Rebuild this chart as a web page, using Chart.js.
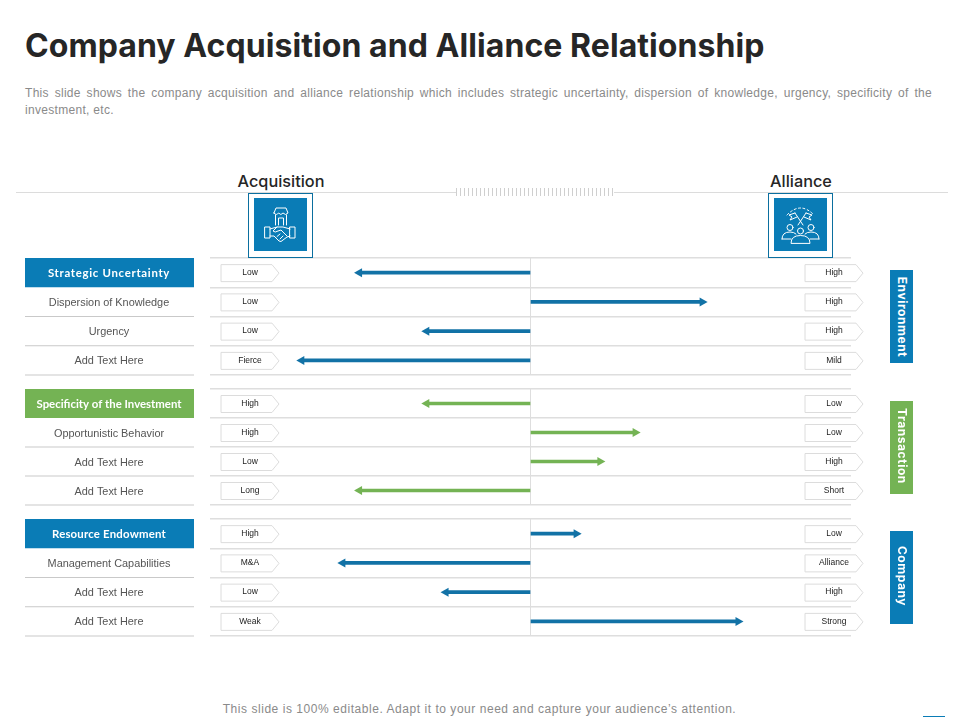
<!DOCTYPE html>
<html>
<head>
<meta charset="utf-8">
<title>Company Acquisition and Alliance Relationship</title>
<script src="https://cdn.jsdelivr.net/npm/chart.js@4"></script>
<style>
  html,body{margin:0;padding:0;background:#fff;}
  body{position:relative;width:960px;height:720px;overflow:hidden;font-family:"Liberation Sans",Arial,sans-serif;}
  h1{position:absolute;left:25px;top:26px;margin:0;font:700 32px/40px "Inter",sans-serif;color:#262626;letter-spacing:.07px;white-space:nowrap;}
  .intro{position:absolute;left:25px;top:85px;width:907px;font-size:12px;line-height:17px;color:#8a8a8a;letter-spacing:.3px;}
  .intro div:first-child{text-align:justify;text-align-last:justify;}
  .head{position:absolute;top:171px;width:120px;text-align:center;font:500 16.3px/20px "Inter",sans-serif;color:#262626;}
  .rule{position:absolute;left:16px;top:192px;width:932px;height:1px;background:#dcdcdc;}
  .hatch{position:absolute;left:456px;top:188px;width:158px;height:8px;background:repeating-linear-gradient(90deg,#cfcfcf 0 1px,#fff 1px 4px);}
  .iconbox{position:absolute;top:193px;width:63px;height:63px;border:1px solid #0b6f9f;background:#fff;z-index:2;}
  .iconbox div{position:absolute;left:5px;top:4px;width:53px;height:53px;background:#0a7cb6;}
  svg{display:block;fill:none;stroke:#fff;stroke-width:1;stroke-linejoin:round;stroke-linecap:round;}
  canvas{position:absolute;left:0;}
  .side{position:absolute;left:890px;width:23px;height:93px;}
  .side span{position:absolute;left:50%;top:50%;transform:translate(-50%,-50%) rotate(90deg);font:700 12px/14px "Inter",sans-serif;color:#fff;letter-spacing:.55px;white-space:nowrap;}
  .foot{position:absolute;left:0;width:960px;top:701px;text-align:center;font-size:12px;line-height:16px;color:#8a8a8a;letter-spacing:.54px;text-indent:-1px;}
  .mark{position:absolute;left:923px;top:716px;width:22px;height:1px;background:#0a7cb6;}
</style>
</head>
<body>
<h1>Company Acquisition and Alliance Relationship</h1>
<div class="intro"><div>This slide shows the company acquisition and alliance relationship which includes strategic uncertainty, dispersion of knowledge, urgency, specificity of the</div><div>investment, etc.</div></div>

<div class="rule"></div>
<div class="hatch"></div>
<div class="head" style="left:221px">Acquisition</div>
<div class="head" style="left:741px">Alliance</div>

<div class="iconbox" style="left:248px"><div>
  <svg width="53" height="53" viewBox="0 0 53 53">
    <path d="M20 15 L22 10 H32 L34 15 Q31.5 18 29 15 Q27 18 24.500 15 Q22.500 18 20 15 Z"/>
    <path d="M21.500 17 V27 M32.500 17 V27 M24.500 27 V20 H29.500 V27"/>
    <rect x="11" y="29" width="5" height="11"/>
    <rect x="36" y="29" width="5" height="11"/>
    <path d="M16 31 L23 29 H29 L36 31 M16 38 H20 L25 43 Q27 44.500 29 42 L33 39 L36 38 M23 29 L19 33 Q21 35 24 33 L27 32 L33 38 M23 38.500 L26 36 M26 41 L29 38"/>
  </svg>
</div></div>
<div class="iconbox" style="left:768px"><div>
  <svg width="53" height="53" viewBox="0 0 53 53">
    <path d="M13 17 Q26.500 3 40 17" stroke-dasharray="2 2.500"/>
    <path d="M21 15 L29 27 M32 15 L24 27"/>
    <path d="M21 15 L15 17 L18 19 L16 22 L23 19 M32 15 L38 17 L35 19 L37 22 L30 19"/>
    <circle cx="16" cy="29.500" r="3"/>
    <circle cx="26.500" cy="33" r="3"/>
    <circle cx="37" cy="29.500" r="3"/>
    <path d="M8 41 Q8 34 16 34 Q20 34 22 36 M45 41 Q45 34 37 34 Q33 34 31 36 M8 41 H17 M36 41 H45 M17 45 Q17 37.500 26.500 37.500 Q36 37.500 36 45 Z"/>
  </svg>
</div></div>

<canvas id="groupA" width="960" height="121" style="top:256px"></canvas>
<canvas id="groupB" width="960" height="120" style="top:387px"></canvas>
<canvas id="groupC" width="960" height="121" style="top:517px"></canvas>

<div class="side" style="top:270px;background:#0a7cb6"><span>Environment</span></div>
<div class="side" style="top:401px;background:#74b354"><span style="margin-top:-2px">Transaction</span></div>
<div class="side" style="top:531px;background:#0a7cb6"><span style="margin-top:-2px">Company</span></div>

<div class="foot">This slide is 100% editable. Adapt it to your need and capture your audience’s attention.</div>
<div class="mark"></div>

<script>
// row names, read top to bottom
const environmentRows = ['Strategic Uncertainty','Dispersion of Knowledge','Urgency','Add Text Here'];
const transactionRows = ['Specificity of the Investment','Opportunistic Behavior','Add Text Here','Add Text Here'];
const companyRows = ['Resource Endowment','Management Capabilities','Add Text Here','Add Text Here'];

// lean towards acquisition (-) or alliance (+), percent of half width
const environmentValues = [-53.5, 53.7, -32.5, -71.5];
const transactionValues = [-32.5, 32.8, 21.8, -53.5];
const companyValues = [14.4, -58.7, -26.5, 64.9];

const environmentLeft = ['Low','Low','Low','Fierce'];
const environmentRight = ['High','High','High','Mild'];
const transactionLeft = ['High','High','Low','Long'];
const transactionRight = ['Low','Low','High','Short'];
const companyLeft = ['High','M&A','Low','Weak'];
const companyRight = ['Low','Alliance','High','Strong'];

const BLUE = '#0a7cb6', ARROW_BLUE = '#1272a6', GREEN = '#74b354';
const LINE = '#dedede', LEFT_LINE = '#c9c9c9';

function tag(ctx, x, y, text){
  const my = y + 0.5;
  ctx.beginPath();
  ctx.moveTo(x, my-8.5); ctx.lineTo(x+51, my-8.5); ctx.lineTo(x+58, my); ctx.lineTo(x+51, my+8.5); ctx.lineTo(x, my+8.5);
  ctx.closePath();
  ctx.fillStyle = '#fff'; ctx.fill();
  ctx.strokeStyle = '#dcdcdc'; ctx.lineWidth = 1; ctx.stroke();
  ctx.fillStyle = '#222';
  ctx.font = '8.5px "Liberation Sans", Arial, sans-serif';
  ctx.textAlign = 'center'; ctx.textBaseline = 'middle';
  ctx.fillText(text, x+29, y);
}

// left column, the tag boxes and the arrow heads all hang off the bar scales
const rowDecor = {
  id:'rowDecor',
  afterDatasetsDraw(chart, args, opts){
    const ctx = chart.ctx, yScale = chart.scales.y, meta = chart.getDatasetMeta(0);
    const rowH = yScale.getPixelForValue(1) - yScale.getPixelForValue(0);
    ctx.save();
    chart.data.labels.forEach((name, i)=>{
      const y = yScale.getPixelForValue(i);
      const bottom = y + rowH/2;
      if(i === 0){
        ctx.fillStyle = opts.head;
        ctx.fillRect(25, y-rowH/2, 169, rowH);
      }else{
        ctx.strokeStyle = LEFT_LINE; ctx.lineWidth = 1;
        ctx.beginPath(); ctx.moveTo(25, bottom); ctx.lineTo(194, bottom); ctx.stroke();
      }
      ctx.textAlign = 'center'; ctx.textBaseline = 'middle';
      ctx.fillStyle = i === 0 ? '#fff' : '#555';
      ctx.font = i === 0 ? '700 11.4px "Lato", sans-serif' : '10.9px "Liberation Sans", Arial, sans-serif';
      ctx.letterSpacing = i === 0 ? opts.headSpacing : '0px';
      ctx.fillText(name, 109, y + (i === 0 ? 0.5 : 1));
      ctx.letterSpacing = '0px';

      tag(ctx, 221, y, opts.left[i]);
      tag(ctx, 805, y, opts.right[i]);

      // arrow head
      const bar = meta.data[i], dir = bar.x < chart.scales.x.getPixelForValue(0) ? -1 : 1;
      ctx.fillStyle = opts.arrow;
      ctx.beginPath();
      ctx.moveTo(bar.x + dir*5, bar.y);
      ctx.lineTo(bar.x - dir*3, bar.y-4.5);
      ctx.lineTo(bar.x - dir*3, bar.y+4.5);
      ctx.closePath(); ctx.fill();
    });
    ctx.restore();
  }
};

function drawGroup(id, rows, values, left, right, head, arrow, headSpacing){
  new Chart(document.getElementById(id), {
    type:'bar',
    plugins:[rowDecor],
    data:{labels:rows, datasets:[{data:values, backgroundColor:arrow, barThickness:3, borderWidth:0, borderSkipped:false}]},
    options:{
      indexAxis:'y', responsive:false, animation:false, events:[],
      layout:{padding:{left:210, right:109, top:2, bottom:2}},
      plugins:{legend:{display:false}, tooltip:{enabled:false}, rowDecor:{left, right, head, arrow, headSpacing}},
      scales:{
        x:{min:-100, max:100, ticks:{display:false, stepSize:100},
           border:{display:false},
           grid:{drawTicks:false, lineWidth:1, color:c=>c.tick && c.tick.value === 0 ? LINE : 'transparent'}},
        y:{ticks:{display:false}, border:{display:false},
           grid:{drawTicks:false, offset:true, color:LINE, lineWidth:1.5}}
      }
    }
  });
}

drawGroup('groupA', environmentRows, environmentValues, environmentLeft, environmentRight, BLUE, ARROW_BLUE, '0.7px');
drawGroup('groupB', transactionRows, transactionValues, transactionLeft, transactionRight, GREEN, GREEN, '0px');
drawGroup('groupC', companyRows, companyValues, companyLeft, companyRight, BLUE, ARROW_BLUE, '0.2px');
</script>
</body>
</html>
